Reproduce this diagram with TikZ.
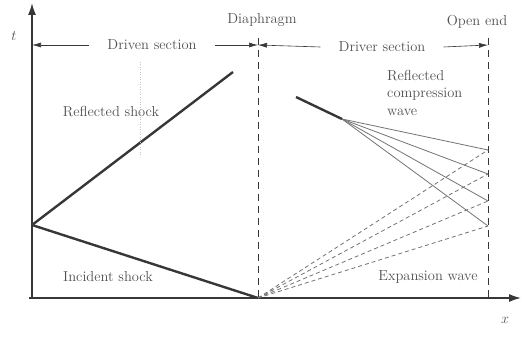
\documentclass[tikz,border=0pt]{standalone}
\usepackage{tikz}
\usetikzlibrary{arrows.meta}
\definecolor{inkgray}{RGB}{55,55,55}
\definecolor{textgray}{RGB}{80,80,80}
\definecolor{fangray}{RGB}{115,115,115}

\begin{document}
\begin{tikzpicture}[x=1pt,y=-1pt,font=\fontsize{14.5}{17.5}\selectfont,
  axis/.style={draw=inkgray,line width=1.6pt,-{Latex[length=12pt,width=8pt]}},
  shock/.style={draw=inkgray,line width=2.4pt},
  dimline/.style={draw=inkgray,line width=0.6pt,-{Latex[length=9pt,width=5pt]}},
  wall/.style={draw=inkgray,line width=0.8pt,dash pattern=on 7pt off 5pt},
  compr/.style={draw=fangray,line width=0.8pt},
  expan/.style={draw=fangray,line width=0.8pt,dash pattern=on 4pt off 3pt},
  lbl/.style={text=textgray,inner sep=1pt},
  dimlbl/.style={text=textgray,inner ysep=1pt,inner xsep=18pt}]
  \useasboundingbox (0,0) rectangle (522,339);
  % axes
  \coordinate (origin) at (32,298);
  \coordinate (xstart) at (29,298);
  \coordinate (ttip) at (32,3);
  \coordinate (xtip) at (521,298);
  \draw[axis] (xstart) -- (xtip);
  \draw[axis] (origin) -- (ttip);
  \node[lbl] (tlab) at (14,36) {$t$};
  \node[lbl] (xlab) at (505,320) {$x$};
  % diaphragm and open end
  \coordinate (diaph) at (258,298);
  \coordinate (diaphtop) at (258,38);
  \coordinate (openbot) at (488,298);
  \coordinate (opentop) at (488,38);
  \draw[wall] (diaphtop) -- (diaph);
  \draw[wall] (opentop) -- (openbot);
  \node[lbl] (diaphlbl) at (262,20) {Diaphragm};
  \node[lbl] (openlbl) at (477,22) {Open end};
  % section extents
  \coordinate (dimleft) at (32,45);
  \coordinate (dimmid) at (258,45);
  \coordinate (dimright) at (488,45);
  \node[dimlbl] (driven) at (152,45) {Driven section};
  \node[dimlbl] (driver) at (382,47) {Driver section};
  \draw[dimline] (driven.west) -- (dimleft);
  \draw[dimline] (driven.east) -- (dimmid);
  \draw[dimline] (driver.west) -- (dimmid);
  \draw[dimline] (driver.east) -- (dimright);
  % shocks
  \coordinate (refl) at (32,225);
  \coordinate (rtop) at (233,72);
  \draw[shock] (refl) -- (rtop);
  \draw[shock] (refl) -- (diaph);
  \coordinate (guidetop) at (140,62);
  \coordinate (guidebot) at (140,157);
  \draw[draw=gray!45,line width=0.5pt,dotted] (guidetop) -- (guidebot);
  \node[lbl] (refllbl) at (111,112) {Reflected shock};
  \node[lbl] (inclbl) at (108,277) {Incident shock};
  % expansion and reflected compression waves
  \coordinate (head) at (296,97);
  \coordinate (fan) at (342,119);
  \draw[shock] (head) -- (fan);
  \foreach \yy [count=\i] in {150,174,201,226} {
    \coordinate (end\i) at (488,\yy);
    \draw[compr] (fan) -- (end\i);
    \draw[expan] (diaph) -- (end\i);
  }
  \node[lbl,anchor=north west,align=left] (complbl) at (386,69) {Reflected\\compression\\wave};
  \node[lbl] (explbl) at (428,277) {Expansion wave};
\end{tikzpicture}
\end{document}
